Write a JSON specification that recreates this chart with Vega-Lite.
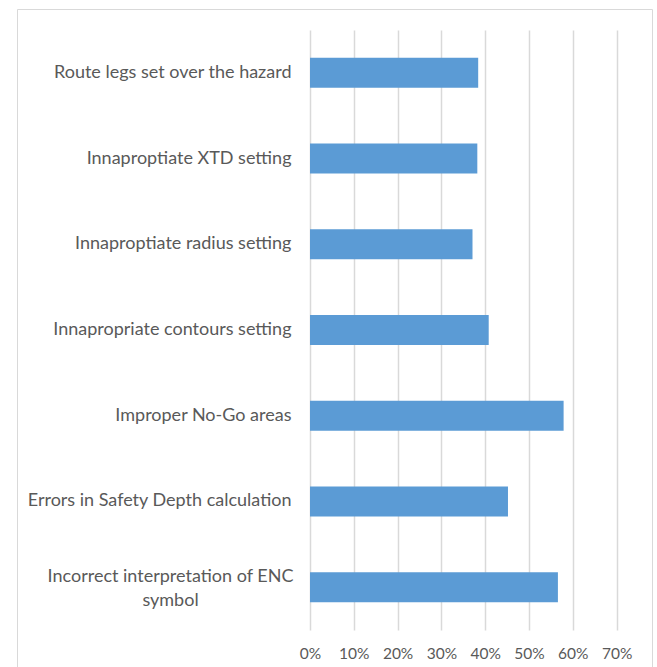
{
  "$schema": "https://vega.github.io/schema/vega-lite/v6.json",
  "autosize": {"type": "none"},
  "padding": {"left": 17, "top": 9, "right": 5, "bottom": 0},
  "width": 635,
  "height": 658,
  "background": "white",
  "config": {
    "view": {"stroke": "#d9d9d9", "strokeWidth": 1},
    "axis": {"labelFont": "Lato", "labelColor": "#595959"}
  },
  "data": {
    "values": [
      {"cause": "Route legs set over the hazard", "share": 0.384},
      {"cause": "Innaproptiate XTD setting", "share": 0.382},
      {"cause": "Innaproptiate radius setting", "share": 0.371},
      {"cause": "Innapropriate contours setting", "share": 0.408},
      {"cause": "Improper No-Go areas", "share": 0.579},
      {"cause": "Errors in Safety Depth calculation", "share": 0.452},
      {"cause": "Incorrect interpretation of ENC symbol", "share": 0.566}
    ]
  },
  "mark": {"type": "bar", "color": "#5b9bd5"},
  "encoding": {
    "y": {
      "field": "cause",
      "type": "nominal",
      "sort": null,
      "scale": {"range": [37, 637], "paddingInner": 0.65, "paddingOuter": 0.325, "align": 0.213},
      "axis": {
        "title": null,
        "domain": false,
        "ticks": false,
        "tickSize": 0,
        "labelFontSize": 18,
        "labelLimit": 0,
        "labelLineHeight": 24,
        "labelExpr": "datum.label == 'Incorrect interpretation of ENC symbol' ? ['Incorrect interpretation of ENC', 'symbol'] : datum.label",
        "labelAlign": {"condition": {"test": "datum.value == 'Incorrect interpretation of ENC symbol'", "value": "center"}, "value": "right"},
        "labelOffset": {"condition": {"test": "datum.value == 'Incorrect interpretation of ENC symbol'", "value": -10}, "value": 0},
        "labelPadding": {"condition": {"test": "datum.value == 'Incorrect interpretation of ENC symbol'", "value": -153}, "value": -274}
      }
    },
    "x": {
      "field": "share",
      "type": "quantitative",
      "scale": {"domain": [-0.6689, 0.7808], "nice": false, "zero": false},
      "axis": {
        "title": null,
        "values": [0, 0.1, 0.2, 0.3, 0.4, 0.5, 0.6, 0.7],
        "format": ".0%",
        "domain": false,
        "ticks": false,
        "tickSize": 0,
        "grid": true,
        "gridColor": "#d9d9d9",
        "gridWidth": 1.5,
        "labelPadding": -21,
        "labelFontSize": 15.5
      }
    }
  }
}
